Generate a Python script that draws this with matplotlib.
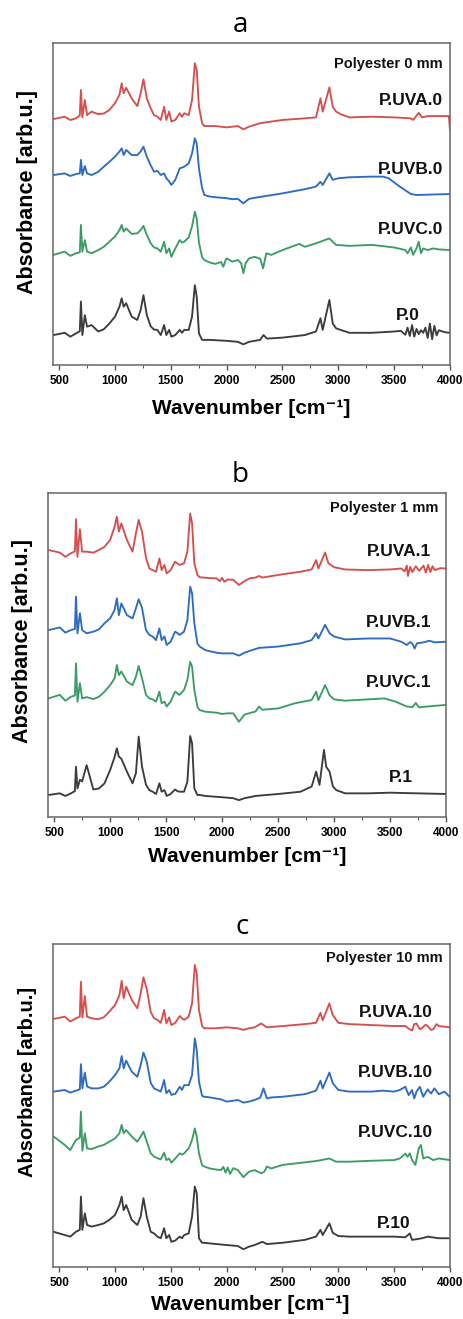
import matplotlib
matplotlib.use('Agg')
import matplotlib.pyplot as plt
from matplotlib.ticker import MultipleLocator

plt.rcParams['font.family'] = ['Liberation Sans', 'DejaVu Sans']

W, H = 463, 1319

# colours of the four treatments
c_uva = '#d4504e'
c_uvb = '#2f6cbd'
c_uvc = '#3d9c66'
c_p = '#3c3c3c'

# shared wavenumber grid of the fingerprint region (cm-1)
fp_wn = [450, 550, 600, 650, 685, 695, 708, 730, 750, 790, 850, 900, 950, 1000,
         1040, 1060, 1078, 1100, 1150, 1200, 1230, 1255, 1285, 1320, 1350, 1380,
         1410, 1440, 1460, 1485, 1505, 1540, 1580, 1600, 1620, 1660, 1690, 1715,
         1732, 1752, 1780]

# ---- panel a : Polyester 0 mm ----
a_uva_fp = [76.4, 77.1, 76.1, 76.6, 77.5, 85.4, 76.9, 82.3, 77.6, 78.7, 77.9, 78.1, 79.2, 81.3,
            83.9, 87.5, 84.4, 86.1, 82.8, 80.4, 84.4, 88.7, 82.8, 79.7, 77.6, 77.1,
            76.1, 80.2, 76.1, 78.7, 75.6, 76.1, 78.2, 77.1, 78.2, 77.6, 82.3, 93.7,
            91.6, 80.2, 75.1]
a_uva_wn = [1800, 1900, 2000, 2100, 2150, 2200, 2300, 2500, 2700, 2800, 2840, 2860, 2920, 2950,
            2980, 3020, 3100, 3300, 3500, 3650, 3670, 3720, 3750, 3800, 3990, 4000]
a_uva_ab = [74.2, 74.2, 73.8, 74.2, 73.2, 74.0, 75.1, 76.1, 76.6, 76.9, 82.8, 78.7, 86.2, 80.2,
            78.7, 77.9, 76.9, 77.1, 76.9, 76.6, 76.1, 78.3, 76.9, 77.3, 77.3, 73.0]

a_uvb_fp = [59.0, 59.5, 58.7, 59.3, 59.5, 63.7, 59.0, 61.8, 59.5, 59.0, 60.0, 61.6, 63.1, 64.7,
            66.3, 67.3, 65.2, 66.8, 65.2, 65.2, 66.3, 67.8, 64.7, 62.0, 60.0, 60.3,
            59.0, 59.5, 58.0, 57.0, 55.9, 57.5, 61.1, 61.3, 61.6, 62.6, 65.7, 70.4,
            68.8, 61.0, 55.0]
a_uvb_wn = [1800, 1850, 1900, 2000, 2050, 2100, 2150, 2200, 2300, 2500, 2700, 2800, 2840, 2860,
            2920, 2950, 3000, 3100, 3300, 3400, 3450, 3550, 3650, 3700, 4000]
a_uvb_ab = [52.8, 52.3, 52.1, 51.8, 51.5, 51.6, 50.2, 51.6, 52.2, 53.3, 54.6, 55.4, 56.9, 55.9,
            59.5, 57.5, 58.0, 58.3, 58.5, 58.5, 58.0, 55.4, 53.1, 52.8, 53.1]

a_uvc_fp = [34.2, 35.2, 33.9, 34.7, 35.0, 43.5, 35.2, 38.8, 35.2, 34.7, 35.7, 36.7, 38.3, 39.9,
            41.9, 43.5, 41.4, 42.4, 40.7, 40.9, 41.9, 43.2, 40.4, 37.8, 36.5, 36.2,
            35.2, 38.3, 34.7, 36.2, 33.6, 36.2, 38.8, 38.0, 38.3, 39.6, 43.0, 47.6,
            45.5, 38.0, 33.5]
a_uvc_wn = [1800, 1850, 1900, 1950, 1970, 1990, 2000, 2050, 2100, 2130, 2150, 2170, 2200, 2250,
            2300, 2326, 2355, 2400, 2500, 2650, 2700, 2800, 2920, 2980, 3100, 3300, 3500,
            3600, 3620, 3650, 3670, 3700, 3720, 3740, 3760, 3800, 3850, 3900, 4000]
a_uvc_ab = [32.6, 31.8, 31.4, 32.0, 30.5, 32.5, 33.1, 32.1, 32.6, 31.6, 28.5, 31.6, 33.1, 33.6,
            33.0, 30.0, 34.7, 34.2, 35.7, 37.6, 36.7, 37.8, 39.3, 37.3, 37.0, 37.3, 36.5,
            35.7, 34.7, 36.5, 34.2, 36.2, 38.3, 34.7, 36.2, 35.7, 36.2, 35.9, 35.7]

a_p_fp = [9.3, 10.0, 8.8, 9.8, 10.5, 19.7, 9.3, 15.5, 11.9, 12.4, 10.4, 11.1, 12.9, 15.0,
          18.1, 20.7, 18.1, 19.2, 15.0, 14.0, 17.1, 21.7, 15.5, 12.0, 11.0, 10.9,
          9.3, 12.4, 9.3, 10.9, 8.8, 9.3, 10.9, 10.0, 10.9, 10.9, 15.0, 24.8,
          21.2, 9.8, 7.8]
a_p_wn = [1800, 1850, 2000, 2100, 2150, 2200, 2300, 2330, 2360, 2500, 2700, 2800, 2840, 2860,
          2920, 2950, 2980, 3020, 3100, 3300, 3500, 3560, 3600, 3620, 3640, 3660, 3680,
          3700, 3720, 3740, 3760, 3780, 3800, 3820, 3840, 3860, 3880, 3900, 3950, 4000]
a_p_ab = [7.8, 7.8, 7.5, 7.2, 6.4, 7.2, 7.8, 9.3, 8.2, 8.5, 9.3, 10.4, 14.5, 10.9,
          20.2, 12.9, 11.4, 10.9, 10.0, 10.0, 10.4, 10.6, 9.4, 11.6, 9.0, 12.4, 8.8,
          11.2, 9.6, 10.8, 10.0, 11.6, 8.4, 12.9, 8.0, 12.2, 9.2, 10.8, 10.2, 10.0]

# ---- panel b : Polyester 1 mm ----
b_uva_fp = [82.4, 81.6, 80.3, 81.4, 82.0, 91.9, 80.3, 88.8, 81.9, 81.9, 81.6, 82.4, 83.4, 85.5,
            89.6, 92.7, 88.1, 90.6, 85.5, 81.9, 87.5, 91.7, 88.0, 80.0, 76.7, 76.2,
            75.7, 79.8, 76.2, 77.8, 75.2, 76.2, 78.8, 78.3, 77.8, 78.3, 81.9, 93.7,
            90.6, 78.3, 74.7]
b_uva_wn = [1800, 1900, 1950, 1980, 2000, 2020, 2050, 2100, 2150, 2200, 2250, 2300, 2330, 2360,
            2500, 2700, 2800, 2840, 2860, 2920, 2950, 3000, 3100, 3300, 3500, 3600, 3630,
            3650, 3660, 3680, 3700, 3730, 3760, 3800, 3820, 3840, 3860, 3880, 3900, 3950, 4000]
b_uva_ab = [74.0, 73.7, 73.7, 72.8, 73.8, 72.6, 73.3, 73.2, 71.6, 72.8, 73.7, 73.9, 74.4, 73.9,
            74.7, 75.7, 76.4, 79.3, 76.7, 81.6, 78.3, 77.1, 76.4, 76.2, 76.4, 76.7, 75.8,
            77.6, 74.4, 77.2, 75.6, 77.4, 76.0, 77.6, 75.4, 77.8, 75.6, 77.4, 76.2, 76.8, 76.7]

b_uvb_fp = [57.7, 58.5, 56.9, 57.7, 58.0, 68.0, 56.7, 62.9, 57.7, 56.7, 57.2, 57.9, 59.8, 61.3,
            63.9, 67.5, 62.3, 65.9, 62.3, 61.3, 64.4, 67.2, 64.5, 57.7, 56.2, 55.7,
            54.6, 58.2, 54.6, 55.7, 53.1, 54.1, 57.2, 56.8, 56.2, 57.2, 60.8, 71.1,
            69.0, 59.8, 53.5]
b_uvb_wn = [1800, 1850, 1950, 2000, 2100, 2150, 2200, 2250, 2330, 2500, 2700, 2800, 2840, 2860,
            2920, 2960, 3000, 3100, 3300, 3500, 3600, 3650, 3680, 3700, 3720, 3740, 3800,
            3850, 3900, 4000]
b_uvb_ab = [52.6, 51.5, 50.7, 50.5, 50.5, 49.8, 50.7, 51.3, 52.2, 52.6, 53.6, 54.6, 56.7, 55.1,
            59.3, 56.7, 55.7, 54.8, 55.1, 55.1, 54.1, 53.1, 54.0, 53.5, 52.0, 53.6, 53.9,
            54.4, 53.9, 54.1]

b_uvc_fp = [36.6, 37.7, 35.9, 37.1, 37.5, 47.4, 35.6, 41.3, 36.6, 37.0, 36.4, 37.1, 38.7, 40.7,
            42.8, 46.9, 43.8, 44.9, 41.8, 40.7, 43.3, 46.6, 42.8, 37.7, 36.6, 36.3,
            35.6, 38.7, 35.1, 35.6, 34.1, 35.6, 38.7, 38.2, 37.7, 39.2, 42.3, 47.9,
            46.4, 39.2, 34.0]
b_uvc_wn = [1800, 1850, 1950, 2000, 2050, 2100, 2150, 2200, 2300, 2330, 2360, 2500, 2650, 2800,
            2840, 2860, 2920, 2960, 3000, 3100, 3300, 3450, 3550, 3650, 3700, 3730, 3760,
            3800, 4000]
b_uvc_ab = [33.0, 32.5, 32.2, 31.8, 32.0, 32.0, 29.4, 31.6, 32.6, 34.1, 33.1, 33.5, 35.1, 36.1,
            38.7, 36.1, 40.7, 37.6, 36.3, 35.9, 36.3, 36.6, 35.6, 34.1, 33.9, 35.2, 33.8,
            34.0, 34.6]

b_p_fp = [6.8, 7.3, 6.5, 7.3, 8.0, 15.5, 8.8, 11.5, 11.0, 16.0, 8.5, 8.8, 10.4, 14.5,
          18.5, 21.2, 18.6, 18.0, 14.0, 10.4, 13.5, 24.8, 15.5, 10.0, 8.3, 7.8,
          7.1, 10.4, 7.8, 8.3, 6.5, 7.1, 8.5, 8.0, 7.8, 7.8, 10.9, 25.0,
          22.7, 8.8, 6.8]
b_p_wn = [1800, 1850, 2000, 2100, 2150, 2200, 2300, 2500, 2700, 2800, 2840, 2870, 2910, 2930,
          2960, 2990, 3020, 3100, 3300, 3500, 4000]
b_p_ab = [6.8, 6.5, 6.1, 5.8, 5.2, 5.8, 6.5, 7.1, 7.8, 9.4, 14.0, 9.9, 20.7, 15.5,
          14.0, 9.4, 8.3, 7.3, 7.3, 7.5, 7.1]

# ---- panel c : Polyester 10 mm ----
c_uva_fp = [76.8, 77.5, 76.0, 77.0, 77.5, 88.3, 77.2, 83.9, 77.5, 77.0, 76.7, 77.3, 79.1, 81.1,
            84.2, 88.6, 83.2, 86.8, 82.7, 80.1, 84.7, 89.7, 86.0, 79.0, 77.0, 76.5,
            75.6, 79.6, 75.4, 77.3, 74.9, 75.6, 77.7, 77.0, 76.5, 77.5, 81.6, 93.5,
            90.9, 79.6, 74.6]
c_uva_wn = [1800, 1900, 2000, 2100, 2150, 2200, 2250, 2310, 2360, 2500, 2700, 2800, 2840, 2860,
            2920, 2950, 3000, 3100, 3300, 3500, 3600, 3630, 3660, 3680, 3700, 3730, 3750,
            3780, 3800, 3830, 3850, 3880, 3900, 3950, 4000]
c_uva_ab = [73.9, 73.9, 74.2, 73.9, 73.4, 73.9, 74.2, 75.4, 74.2, 74.6, 75.2, 75.6, 78.7, 76.4,
            81.6, 78.0, 75.6, 75.2, 74.9, 74.6, 74.6, 73.8, 73.2, 75.2, 75.4, 73.6, 74.0,
            75.0, 74.6, 73.4, 73.6, 75.2, 74.6, 74.4, 74.2]

c_uvb_fp = [54.3, 54.8, 54.0, 54.6, 55.0, 62.8, 55.3, 60.2, 55.9, 55.3, 55.3, 55.8, 57.4, 59.4,
            61.5, 65.3, 61.5, 63.9, 60.5, 58.9, 62.5, 66.4, 63.5, 57.0, 55.3, 54.8,
            54.3, 57.9, 53.8, 54.8, 53.3, 53.6, 55.8, 54.8, 56.3, 56.3, 59.4, 70.8,
            67.2, 57.4, 53.0]
c_uvb_wn = [1800, 1850, 1950, 2000, 2100, 2150, 2200, 2250, 2300, 2330, 2360, 2400, 2500, 2700,
            2800, 2840, 2860, 2920, 2950, 3000, 3100, 3300, 3400, 3500, 3550, 3600, 3630,
            3660, 3680, 3700, 3730, 3760, 3800, 3830, 3860, 3900, 3950, 4000]
c_uvb_ab = [52.7, 52.5, 51.9, 51.2, 51.7, 50.9, 51.2, 51.7, 52.4, 55.3, 52.2, 52.5, 52.7, 53.5,
            54.6, 57.7, 55.3, 60.2, 56.9, 54.8, 54.3, 54.3, 54.6, 54.3, 54.8, 55.8, 53.2,
            54.8, 52.2, 54.3, 55.8, 52.7, 55.0, 53.7, 55.3, 53.5, 54.3, 52.6]

c_uvc_fp = [40.4, 37.8, 36.2, 39.3, 40.0, 48.1, 36.0, 41.4, 36.7, 36.5, 37.3, 37.8, 38.8, 39.8,
            41.4, 44.0, 41.4, 42.4, 40.4, 38.8, 40.4, 41.9, 38.8, 35.2, 34.2, 33.7,
            33.3, 35.4, 33.1, 33.6, 32.3, 33.6, 35.2, 34.8, 35.2, 36.7, 39.3, 42.9,
            40.4, 35.2, 31.5]
c_uvc_wn = [1800, 1850, 1900, 1950, 1970, 1990, 2010, 2030, 2060, 2100, 2150, 2200, 2250, 2310,
            2340, 2360, 2400, 2500, 2700, 2800, 2920, 2980, 3100, 3300, 3500, 3550, 3600,
            3620, 3640, 3660, 3690, 3720, 3740, 3760, 3800, 3850, 3900, 4000]
c_uvc_ab = [31.1, 30.5, 30.2, 30.0, 31.0, 29.2, 30.8, 28.8, 30.6, 30.0, 27.8, 29.5, 30.0, 29.0,
            29.6, 31.1, 30.5, 31.6, 32.4, 32.8, 33.6, 32.6, 32.6, 32.9, 33.1, 33.6, 35.1,
            34.1, 35.2, 33.1, 31.6, 36.7, 37.8, 33.6, 34.1, 33.1, 33.6, 33.1]

c_p_fp = [10.9, 9.9, 9.4, 10.9, 11.5, 21.8, 11.5, 16.6, 13.0, 12.5, 13.0, 13.5, 14.6, 16.1,
          19.2, 21.8, 17.6, 19.2, 14.6, 13.0, 15.6, 21.3, 15.5, 10.9, 10.4, 9.4,
          8.9, 12.0, 8.9, 9.9, 7.8, 8.2, 9.4, 8.9, 9.9, 10.4, 15.6, 24.9,
          22.8, 8.9, 7.5]
c_p_wn = [1800, 1850, 2000, 2100, 2150, 2200, 2250, 2320, 2360, 2500, 2700, 2800, 2840, 2860,
          2920, 2950, 3000, 3100, 3300, 3500, 3600, 3640, 3660, 3700, 3750, 3800, 3900, 4000]
c_p_ab = [7.5, 7.3, 6.8, 6.5, 5.5, 6.3, 6.8, 7.8, 7.1, 7.5, 8.4, 9.4, 11.5, 9.9,
          13.5, 10.6, 9.6, 9.4, 9.4, 9.4, 9.2, 10.4, 8.4, 8.6, 8.9, 9.4, 8.9, 8.9]

# layout in pixels: axes box (left, top, right, bottom), letter, xlabel, ylabel centres
panels = [
    dict(letter='a', title='Polyester 0 mm', box=(53, 43, 450, 365),
         letter_xy=(240, 25), xlab_xy=(251, 408), ylab_xy=(28, 192), ylab_fs=15.5,
         series=[(a_uva_fp, a_uva_wn, a_uva_ab, c_uva, 'P.UVA.0', 0.982, 0.82),
                 (a_uvb_fp, a_uvb_wn, a_uvb_ab, c_uvb, 'P.UVB.0', 0.982, 0.606),
                 (a_uvc_fp, a_uvc_wn, a_uvc_ab, c_uvc, 'P.UVC.0', 0.982, 0.42),
                 (a_p_fp, a_p_wn, a_p_ab, c_p, 'P.0', 0.924, 0.155)],
         title_y=0.935),
    dict(letter='b', title='Polyester 1 mm', box=(48, 493, 446, 817),
         letter_xy=(240, 475), xlab_xy=(247, 856), ylab_xy=(23, 641), ylab_fs=15.5,
         series=[(b_uva_fp, b_uva_wn, b_uva_ab, c_uva, 'P.UVA.1', 0.962, 0.818),
                 (b_uvb_fp, b_uvb_wn, b_uvb_ab, c_uvb, 'P.UVB.1', 0.962, 0.599),
                 (b_uvc_fp, b_uvc_wn, b_uvc_ab, c_uvc, 'P.UVC.1', 0.962, 0.414),
                 (b_p_fp, b_p_wn, b_p_ab, c_p, 'P.1', 0.917, 0.123)],
         title_y=0.954),
    dict(letter='c', title='Polyester 10 mm', box=(53, 944, 450, 1267),
         letter_xy=(242, 927), xlab_xy=(250, 1305), ylab_xy=(28, 1082), ylab_fs=14.5,
         series=[(c_uva_fp, c_uva_wn, c_uva_ab, c_uva, 'P.UVA.10', 0.957, 0.789),
                 (c_uvb_fp, c_uvb_wn, c_uvb_ab, c_uvb, 'P.UVB.10', 0.957, 0.601),
                 (c_uvc_fp, c_uvc_wn, c_uvc_ab, c_uvc, 'P.UVC.10', 0.957, 0.415),
                 (c_p_fp, c_p_wn, c_p_ab, c_p, 'P.10', 0.901, 0.136)],
         title_y=0.957),
]


def fx(x):
    return x / W


def fy(y):
    return 1 - y / H


fig = plt.figure(figsize=(W / 100, H / 100), dpi=100)

for p in panels:
    l, t, r, b = p['box']
    ax = fig.add_axes([fx(l), fy(b), (r - l) / W, (b - t) / H])
    for fp, wn, ab, col, lab, tx, ty in p['series']:
        ax.plot(fp_wn + wn, fp + ab, color=col, lw=1.35)
        ax.text(tx, ty, lab, transform=ax.transAxes, ha='right', va='center',
                fontsize=12.5, fontweight='bold', color='#111111')
    ax.text(0.982, p['title_y'], p['title'], transform=ax.transAxes, ha='right', va='center',
            fontsize=10.5, fontweight='bold', color='#111111')
    ax.set_xlim(445, 4000)
    ax.set_ylim(0, 100)
    ax.xaxis.set_major_locator(MultipleLocator(500))
    ax.xaxis.set_minor_locator(MultipleLocator(250))
    ax.tick_params(axis='x', which='major', direction='out', length=3.5, width=1,
                   color='#555555', labelsize=8.5, pad=3.5)
    ax.tick_params(axis='x', which='minor', direction='out', length=2, width=0.8, color='#555555')
    for lbl in ax.get_xticklabels():
        lbl.set_fontweight('bold')
    ax.set_yticks([])
    for s in ax.spines.values():
        s.set_color('#666666')
        s.set_linewidth(1.1)

    fig.text(fx(p['xlab_xy'][0]), fy(p['xlab_xy'][1]), 'Wavenumber [cm\u207b\u00b9]',
             ha='center', va='center', fontsize=15, fontweight='bold')
    fig.text(fx(p['ylab_xy'][0]), fy(p['ylab_xy'][1]), 'Absorbance [arb.u.]',
             ha='center', va='center', rotation=90, fontsize=p['ylab_fs'], fontweight='bold')
    fig.text(fx(p['letter_xy'][0]), fy(p['letter_xy'][1]), p['letter'], ha='center', va='center',
             fontsize=20, family=['Open Sans', 'DejaVu Sans'])

fig.savefig('out.png', dpi=100)
